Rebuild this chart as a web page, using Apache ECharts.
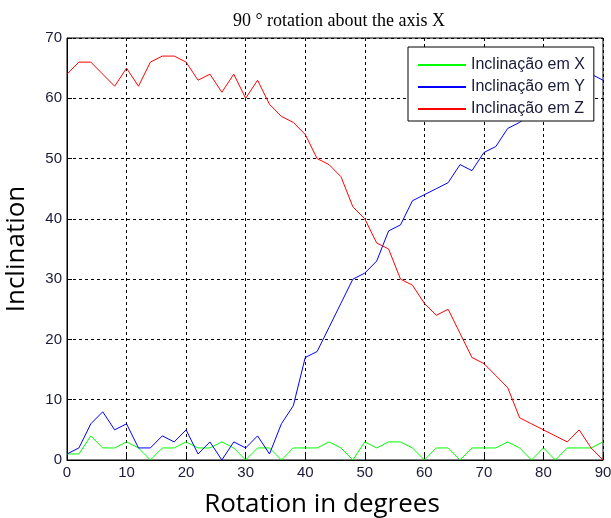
<!DOCTYPE html>
<html>
<head>
<meta charset="utf-8">
<script src="https://cdn.jsdelivr.net/npm/echarts@6/dist/echarts.min.js"></script>
<style>
html, body { margin: 0; padding: 0; background: #fff; }
#chart { width: 611px; height: 518px; }
</style>
</head>
<body>
<div id="chart"></div>
<script>
// rotation angle, every 2 degrees
var angles = [];
for (var a = 0; a <= 90; a += 2) angles.push(a);

var inclX = [1,1,4,2,2,3,2,0,2,2,3,2,2,3,2,0,2,2,0,2,2,2,3,2,0,3,2,3,3,2,0,2,2,0,2,2,2,3,2,0,2,0,2,2,2,3];
var inclY = [1,2,6,8,5,6,2,2,4,3,5,1,3,0,3,2,4,1,6,9,17,18,22,26,30,31,33,38,39,43,44,45,46,49,48,51,52,55,56,57.5,59,60,61.5,62.5,64,63];
var inclZ = [64,66,66,64,62,65,62,66,67,67,66,63,64,61,64,60,63,59,57,56,54,50,49,47,42,40,36,35,30,29,26,24,25,21,17,16,14,12,7,6,5,4,3,5,2,0];

var seriesNames = ['Inclinação em X', 'Inclinação em Y', 'Inclinação em Z'];
var seriesColors = ['#00ff00', '#0000ff', '#ff0000'];

function pairs(vals) {
	var out = [];
	for (var i = 0; i < vals.length; i++) out.push([angles[i], vals[i]]);
	return out;
}

var myChart = echarts.init(document.getElementById('chart'));

var gridLine = { show: true, lineStyle: { color: '#000', type: [3, 3], width: 1 } };
var tickFont = { fontFamily: 'Liberation Sans', fontSize: 15, color: '#1a1a3a' };

var series = [];
for (var s = 0; s < 3; s++) {
	series.push({
		name: seriesNames[s], type: 'line',
		data: pairs([inclX, inclY, inclZ][s]),
		symbol: 'none',
		lineStyle: { color: seriesColors[s], width: 1 },
		itemStyle: { color: seriesColors[s] }
	});
}

var option = {
	animation: false,
	title: {
		text: '90 ° rotation about the axis X',
		left: 334, top: 7, textAlign: 'center',
		textStyle: { fontFamily: 'Liberation Serif', fontSize: 18, fontWeight: 'normal', color: '#000' }
	},
	legend: {
		data: seriesNames,
		orient: 'vertical',
		left: 408, top: 47,
		padding: [10, 9, 4, 10],
		icon: 'rect',
		itemWidth: 48, itemHeight: 2, itemGap: 6,
		backgroundColor: '#fff',
		borderColor: '#000', borderWidth: 1, borderRadius: 0,
		textStyle: { fontFamily: 'Liberation Sans', fontSize: 16, color: '#1a1a3a' }
	},
	grid: { left: 67, right: 8, top: 38, bottom: 58, outerBoundsMode: 'none', containLabel: false, show: true, borderColor: '#000', borderWidth: 1 },
	xAxis: {
		type: 'value', min: 0, max: 90, interval: 10,
		name: 'Rotation in degrees', nameLocation: 'middle', nameGap: 32,
		nameTextStyle: { fontFamily: 'Open Sans', fontSize: 26, color: '#000', padding: [0, 26, 0, 0] },
		axisLine: { show: true, lineStyle: { color: '#000' } },
		axisTick: { show: true, inside: true, length: 5, lineStyle: { color: '#000' } },
		axisLabel: Object.assign({ margin: 5 }, tickFont),
		splitLine: gridLine
	},
	yAxis: {
		type: 'value', min: 0, max: 70, interval: 10,
		name: 'Inclination', nameLocation: 'middle', nameGap: 37,
		nameTextStyle: { fontFamily: 'Open Sans', fontSize: 26, color: '#000' },
		axisLine: { show: true, lineStyle: { color: '#000' } },
		axisTick: { show: true, inside: true, length: 5, lineStyle: { color: '#000' } },
		axisLabel: Object.assign({ margin: 5 }, tickFont),
		splitLine: gridLine
	},
	series: series
};
myChart.setOption(option);
</script>
</body>
</html>
